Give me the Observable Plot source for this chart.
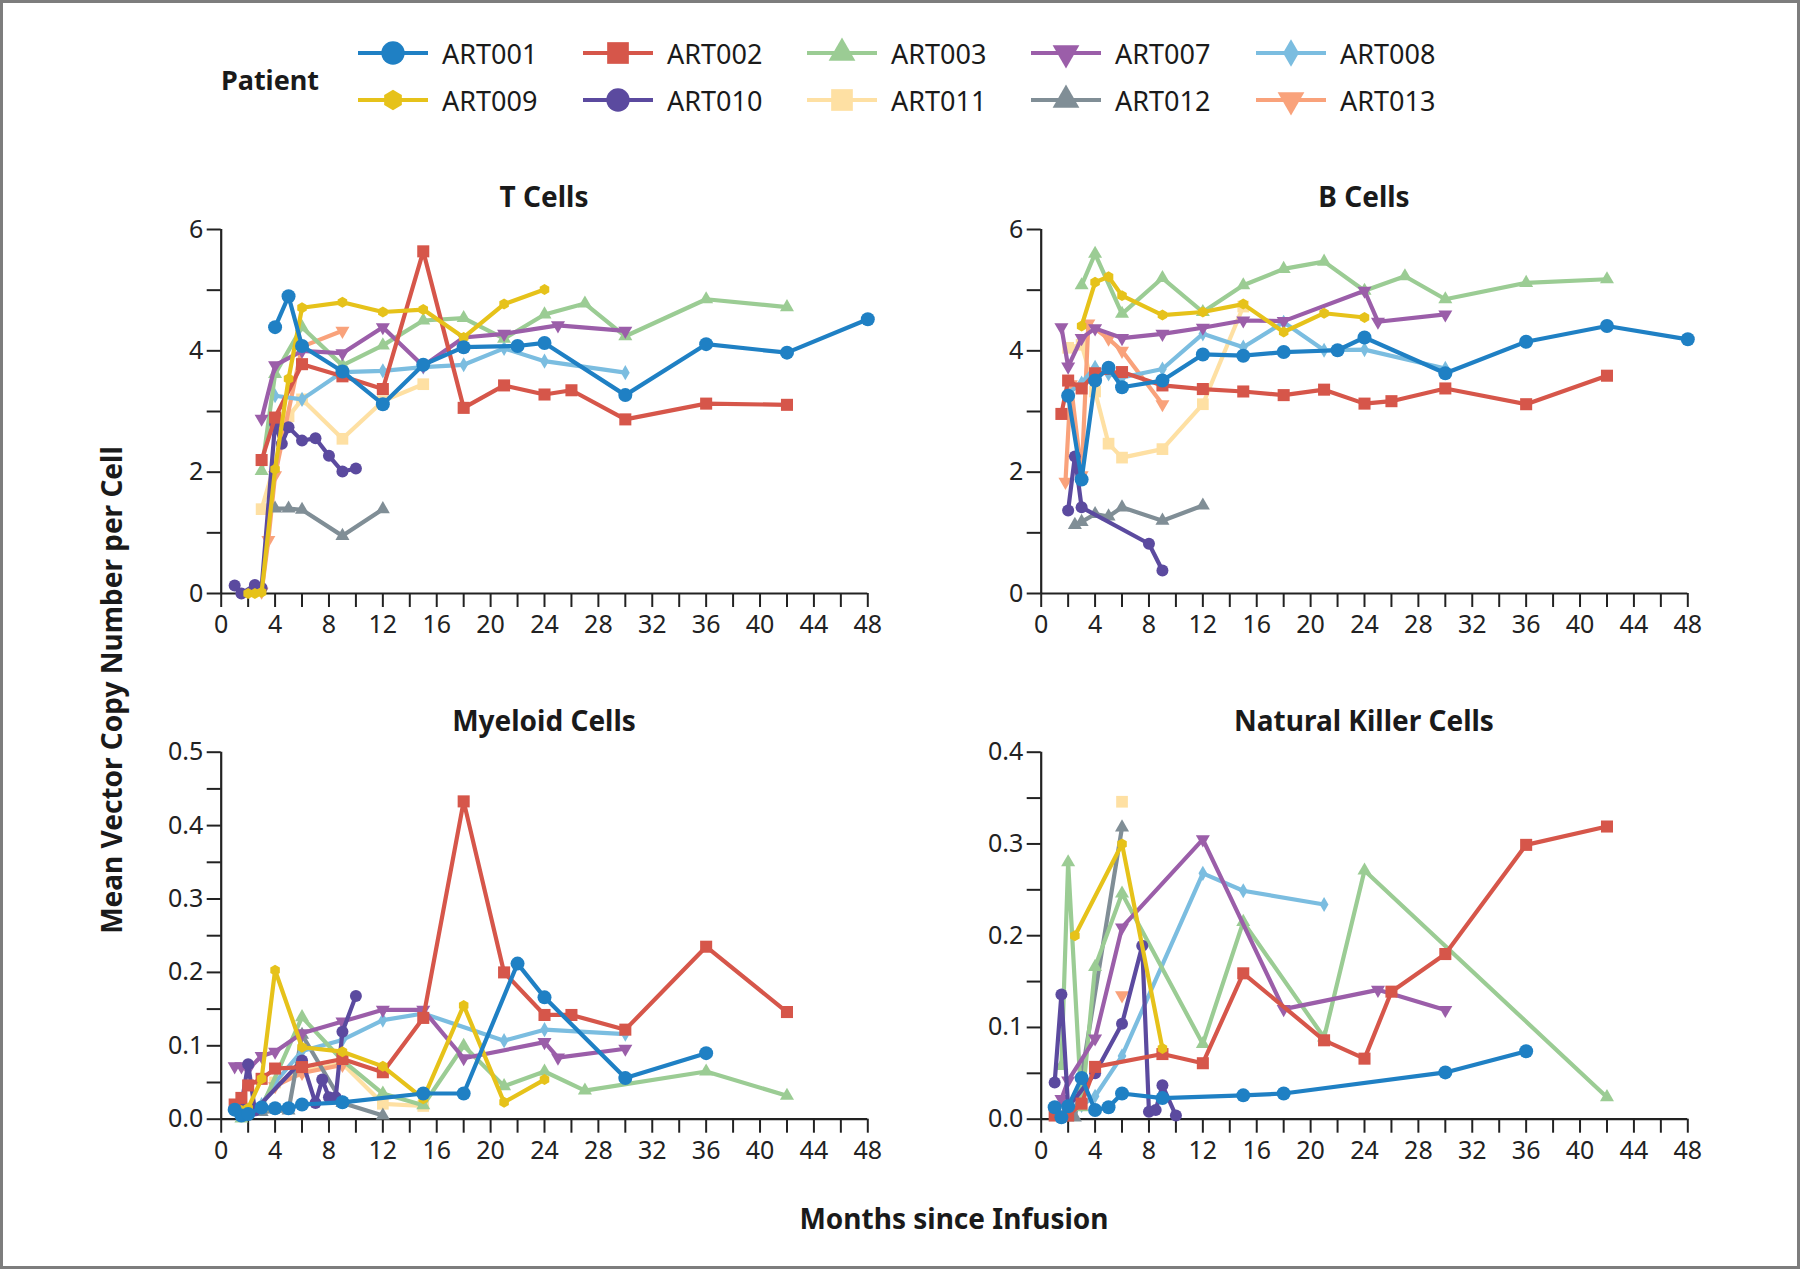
<!DOCTYPE html>
<html><head><meta charset="utf-8">
<script src="https://cdn.jsdelivr.net/npm/d3@7"></script>
<script src="https://cdn.jsdelivr.net/npm/@observablehq/plot@0.6"></script>
<style>
body{margin:0;background:#fff;}
#root{position:relative;width:1800px;height:1269px;font-family:"Noto Sans",sans-serif;color:#1a1a1a;background:#fff;overflow:hidden;}
.title{position:absolute;font-weight:700;font-size:28px;transform:translate(-50%,-50%);white-space:nowrap;}
.frame{position:absolute;left:0;top:0;width:1800px;height:1269px;box-sizing:border-box;border:3px solid #7d7d7d;pointer-events:none;}
.leg{position:absolute;display:flex;align-items:center;height:36px;}
.leg span{font-size:27px;margin-left:14px;}
</style></head><body><div id="root"></div>
<script>
// ---------- data ----------
const patients = ["ART001","ART002","ART003","ART007","ART008","ART009","ART010","ART011","ART012","ART013"];
const colors   = ["#1f80c4","#d6564a","#9bcc94","#9b5ea9","#7bbde0","#e6c21a","#5b4a9f","#fee0a3","#808e96","#f9a27b"];
const symbolNames = ["circle","square","triangle","invtriangle","diamond","hexagon","circle","square","triangle","invtriangle"];
const months = d3.range(0, 49, 2);

const tCells = {
  ART001: [[4,4.39],[5,4.9],[6,4.08],[9,3.66],[12,3.12],[15,3.77],[18,4.06],[22,4.08],[24,4.13],[30,3.27],[36,4.11],[42,3.97],[48,4.52]],
  ART002: [[3,2.2],[4,2.9],[6,3.78],[9,3.58],[12,3.37],[15,5.64],[18,3.06],[21,3.43],[24,3.28],[26,3.35],[30,2.87],[36,3.13],[42,3.11]],
  ART003: [[3,2.02],[4,3.62],[6,4.39],[9,3.76],[12,4.09],[15,4.5],[18,4.54],[21,4.2],[24,4.6],[27,4.78],[30,4.24],[36,4.85],[42,4.72]],
  ART007: [[3,2.88],[4,3.76],[6,4.0],[9,3.96],[12,4.39],[15,3.75],[18,4.22],[21,4.28],[25,4.42],[30,4.33]],
  ART008: [[4,3.26],[6,3.2],[9,3.65],[12,3.67],[15,3.73],[18,3.77],[21,4.04],[24,3.83],[30,3.64]],
  ART009: [[2,0.0],[2.5,0.0],[3,0.02],[4,2.05],[5,3.54],[6,4.71],[9,4.8],[12,4.64],[15,4.68],[18,4.22],[21,4.77],[24,5.01]],
  ART010: [[1,0.13],[1.5,0.0],[2.5,0.14],[3,0.09],[4,2.8],[4.5,2.47],[5,2.74],[6,2.52],[7,2.56],[8,2.27],[9,2.01],[10,2.06]],
  ART011: [[3,1.39],[5,2.92],[6,3.2],[9,2.55],[12,3.17],[15,3.45]],
  ART012: [[4,1.4],[5,1.4],[6,1.38],[9,0.95],[12,1.39]],
  ART013: [[3,0.03],[3.5,0.88],[4,1.95],[6,4.07],[9,4.33]]
};
const bCells = {
  ART001: [[2,3.26],[3,1.88],[4,3.51],[5,3.72],[6,3.4],[9,3.51],[12,3.94],[15,3.92],[18,3.98],[22,4.01],[24,4.22],[30,3.63],[36,4.15],[42,4.41],[48,4.19]],
  ART002: [[1.5,2.96],[2,3.51],[3,3.38],[4,3.63],[6,3.65],[9,3.43],[12,3.37],[15,3.33],[18,3.27],[21,3.36],[24,3.13],[26,3.17],[30,3.38],[36,3.12],[42,3.59]],
  ART003: [[3,5.08],[4,5.6],[6,4.61],[9,5.2],[12,4.64],[15,5.08],[18,5.35],[21,5.47],[24,4.99],[27,5.23],[30,4.85],[36,5.12],[42,5.18]],
  ART007: [[1.5,4.39],[2,3.74],[3,4.21],[4,4.37],[6,4.21],[9,4.28],[12,4.38],[15,4.5],[18,4.49],[24,4.99],[25,4.48],[30,4.6]],
  ART008: [[2,3.3],[3,3.47],[4,3.73],[5,3.62],[6,3.56],[9,3.7],[12,4.28],[15,4.06],[18,4.47],[21,4.01],[24,4.02],[30,3.71]],
  ART009: [[3,4.41],[4,5.13],[5,5.22],[6,4.91],[9,4.59],[12,4.64],[15,4.77],[18,4.31],[21,4.62],[24,4.55]],
  ART010: [[2,1.37],[2.5,2.26],[3,1.42],[8,0.82],[9,0.38]],
  ART011: [[2,4.05],[3,4.1],[4,3.33],[5,2.47],[6,2.24],[9,2.38],[12,3.12],[15,4.73]],
  ART012: [[2.5,1.13],[3,1.18],[4,1.31],[5,1.27],[6,1.42],[9,1.2],[12,1.45]],
  ART013: [[1.8,1.84],[2.2,3.45],[3,1.95],[3.5,4.45],[5,4.2],[6,4.0],[9,3.12]]
};
const myeloidCells = {
  ART001: [[1,0.013],[1.5,0.005],[2,0.007],[3,0.016],[4,0.015],[5,0.015],[6,0.02],[9,0.023],[15,0.035],[18,0.035],[22,0.212],[24,0.166],[30,0.056],[36,0.09]],
  ART002: [[1,0.02],[1.5,0.029],[2,0.046],[3,0.055],[4,0.069],[6,0.071],[9,0.082],[12,0.064],[15,0.138],[18,0.433],[21,0.2],[24,0.142],[26,0.142],[30,0.122],[36,0.235],[42,0.146]],
  ART003: [[1.5,0.001],[3,0.016],[6,0.139],[9,0.08],[12,0.035],[15,0.019],[18,0.1],[21,0.045],[24,0.065],[27,0.039],[36,0.065],[42,0.032]],
  ART007: [[1,0.072],[1.5,0.072],[2,0.068],[3,0.086],[4,0.092],[6,0.117],[9,0.133],[12,0.149],[15,0.149],[18,0.083],[24,0.105],[25,0.084],[30,0.096]],
  ART008: [[3,0.02],[4,0.05],[6,0.093],[9,0.108],[12,0.135],[15,0.144],[21,0.107],[24,0.122],[30,0.116]],
  ART009: [[1.5,0.012],[2,0.015],[3,0.055],[4,0.203],[6,0.098],[9,0.092],[12,0.072],[15,0.028],[18,0.155],[21,0.023],[24,0.054]],
  ART010: [[1.5,0.02],[2,0.075],[2.5,0.012],[6,0.08],[7,0.022],[7.5,0.054],[8,0.03],[8.5,0.03],[9,0.119],[10,0.168]],
  ART011: [[4,0.05],[6,0.065],[9,0.076],[12,0.021],[15,0.018]],
  ART012: [[3,0.01],[5,0.012],[6,0.115],[9,0.022],[12,0.005]],
  ART013: [[4,0.045],[6,0.063],[9,0.074]]
};
const nkCells = {
  ART001: [[1,0.013],[1.5,0.002],[2,0.014],[3,0.045],[4,0.01],[5,0.013],[6,0.028],[9,0.023],[15,0.026],[18,0.028],[30,0.051],[36,0.074]],
  ART002: [[1,0.004],[2,0.004],[3,0.017],[4,0.057],[9,0.071],[12,0.061],[15,0.159],[21,0.086],[24,0.066],[26,0.139],[30,0.18],[36,0.299],[42,0.319]],
  ART003: [[1.5,0.058],[2,0.28],[3,0.013],[4,0.166],[6,0.246],[12,0.082],[15,0.215],[21,0.089],[24,0.271],[42,0.024]],
  ART007: [[1.5,0.022],[2,0.042],[4,0.088],[6,0.209],[12,0.305],[18,0.12],[25,0.141],[30,0.119]],
  ART008: [[3,0.015],[4,0.025],[6,0.069],[12,0.268],[15,0.249],[21,0.234]],
  ART009: [[2.5,0.2],[6,0.3],[9,0.077]],
  ART010: [[1,0.04],[1.5,0.136],[2,0.013],[4,0.05],[6,0.104],[7.5,0.189],[8,0.008],[8.5,0.01],[9,0.037],[10,0.004]],
  ART011: [[6,0.346]],
  ART012: [[2.5,0.002],[6,0.318]],
  ART013: [[6,0.135]]
};
const ticksTB = [0,1,2,3,4,5,6];
const ticksMyeloid = [0,0.05,0.1,0.15,0.2,0.25,0.3,0.35,0.4,0.45,0.5];
const ticksNK = [0,0.05,0.1,0.15,0.2,0.25,0.3,0.35,0.4];

// ---------- symbols ----------
const sqrt3 = Math.sqrt(3);
const invTriangle = {draw(ctx, size){ const y = -Math.sqrt(size/(sqrt3*3)); ctx.moveTo(0,-y*2); ctx.lineTo(-sqrt3*y, y); ctx.lineTo(sqrt3*y, y); ctx.closePath(); }};
const hexagon = {draw(ctx, size){ const r = Math.sqrt(size/(1.5*sqrt3)); for(let i=0;i<6;i++){ const a = Math.PI/2 + i*Math.PI/3; const px=r*Math.cos(a), py=r*Math.sin(a); if(i===0) ctx.moveTo(px,py); else ctx.lineTo(px,py);} ctx.closePath(); }};
const symObj = {circle:d3.symbolCircle, square:d3.symbolSquare, triangle:d3.symbolTriangle, diamond:d3.symbolDiamond, hexagon, invtriangle:invTriangle};
const plotR = [7.0,6.8,5.2,5.2,4.6,5.0,6.0,6.6,5.2,5.2];
const legSize = [430,470,310,310,220,270,430,470,310,310];
const drawOrder = ["ART011","ART013","ART012","ART008","ART003","ART007","ART010","ART002","ART009","ART001"];

const root = document.getElementById("root");

function panel(table, o){
  const marks = [];
  marks.push(Plot.ruleY([0], {x1:0, x2:48, stroke:"#222", strokeWidth:2.2}));
  marks.push(Plot.ruleX([0], {y1:0, y2:o.yMax, stroke:"#222", strokeWidth:2.2}));
  marks.push(Plot.axisX({ticks: months, tickSize:14, tickPadding:8, tickFormat: d => d % 4 === 0 ? String(d) : "", fontSize:25, stroke:"#222", strokeWidth:2, label:null, fill:"#222"}));
  marks.push(Plot.axisY({ticks: o.yTicks, tickSize:14, tickPadding:4, tickFormat: o.fmt, fontSize:25, stroke:"#222", strokeWidth:2, label:null, fill:"#222"}));
  for (const p of drawOrder){
    const i = patients.indexOf(p);
    const d = table[p];
    if (!d) continue;
    if (d.length > 1) marks.push(Plot.line(d, {x: v => v[0], y: v => v[1], stroke: colors[i], strokeWidth:4.2, strokeLinejoin:"round"}));
    marks.push(Plot.dot(d, {x: v => v[0], y: v => v[1], fill: colors[i], symbol: symObj[symbolNames[i]], r: plotR[i]}));
  }
  const svg = Plot.plot({
    width:o.width, height:o.height,
    marginLeft:o.ml, marginRight:o.mr, marginTop:o.mt, marginBottom:o.mb,
    x:{domain:[0,48]}, y:{domain:[0,o.yMax]},
    style:{background:"transparent", overflow:"visible", fontFamily:"Noto Sans", color:"#222"},
    marks
  });
  svg.style.position = "absolute";
  svg.style.left = o.left + "px";
  svg.style.top = o.top + "px";
  root.appendChild(svg);
  const t = document.createElement("div");
  t.className = "title"; t.textContent = o.title;
  t.style.left = o.tx + "px"; t.style.top = o.ty + "px";
  root.appendChild(t);
}

const fmtTB = d => d % 2 === 0 ? String(d) : "";
const fmtSmall = d => Math.round(d*100) % 10 === 0 ? d.toFixed(1) : "";
const common = {width:800, height:450, ml:100.7, mr:52.7};
panel(tCells, {...common, left:120, top:200, mt:29, mb:57, yMax:6, yTicks:ticksTB, fmt:fmtTB, title:"T Cells", tx:544, ty:196});
panel(bCells, {...common, left:940, top:200, mt:29, mb:57, yMax:6, yTicks:ticksTB, fmt:fmtTB, title:"B Cells", tx:1364, ty:196});
panel(myeloidCells, {...common, left:120, top:730, mt:21.7, mb:61.3, yMax:0.5, yTicks:ticksMyeloid, fmt:fmtSmall, title:"Myeloid Cells", tx:544, ty:720});
panel(nkCells, {...common, left:940, top:730, mt:21.7, mb:61.3, yMax:0.4, yTicks:ticksNK, fmt:fmtSmall, title:"Natural Killer Cells", tx:1364, ty:720});

// axis titles
const yt = document.createElement("div");
yt.className = "title"; yt.textContent = "Mean Vector Copy Number per Cell";
yt.style.left = "111px"; yt.style.top = "690px"; yt.style.transform = "translate(-50%,-50%) rotate(-90deg)";
root.appendChild(yt);
const xt = document.createElement("div");
xt.className = "title"; xt.textContent = "Months since Infusion";
xt.style.left = "954px"; xt.style.top = "1218px";
root.appendChild(xt);

// legend
const pt = document.createElement("div");
pt.className = "title"; pt.textContent = "Patient"; pt.style.fontSize = "27px";
pt.style.left = "270px"; pt.style.top = "79px";
root.appendChild(pt);
const colX = [358, 583, 807, 1031, 1256];
const rowY = [53, 100];
patients.forEach((p, i) => {
  const row = i < 5 ? 0 : 1, col = i % 5;
  const div = document.createElement("div");
  div.className = "leg";
  div.style.left = colX[col] + "px";
  div.style.top = (rowY[row] - 18) + "px";
  const s = d3.create("svg").attr("width", 70).attr("height", 36);
  s.append("line").attr("x1", 0).attr("x2", 70).attr("y1", 18).attr("y2", 18).attr("stroke", colors[i]).attr("stroke-width", 4);
  s.append("path").attr("transform", "translate(35,18)").attr("fill", colors[i]).attr("d", d3.symbol(symObj[symbolNames[i]], legSize[i])());
  div.appendChild(s.node());
  const sp = document.createElement("span"); sp.textContent = p;
  div.appendChild(sp);
  root.appendChild(div);
});

const fr = document.createElement("div"); fr.className = "frame"; root.appendChild(fr);
</script></body></html>
